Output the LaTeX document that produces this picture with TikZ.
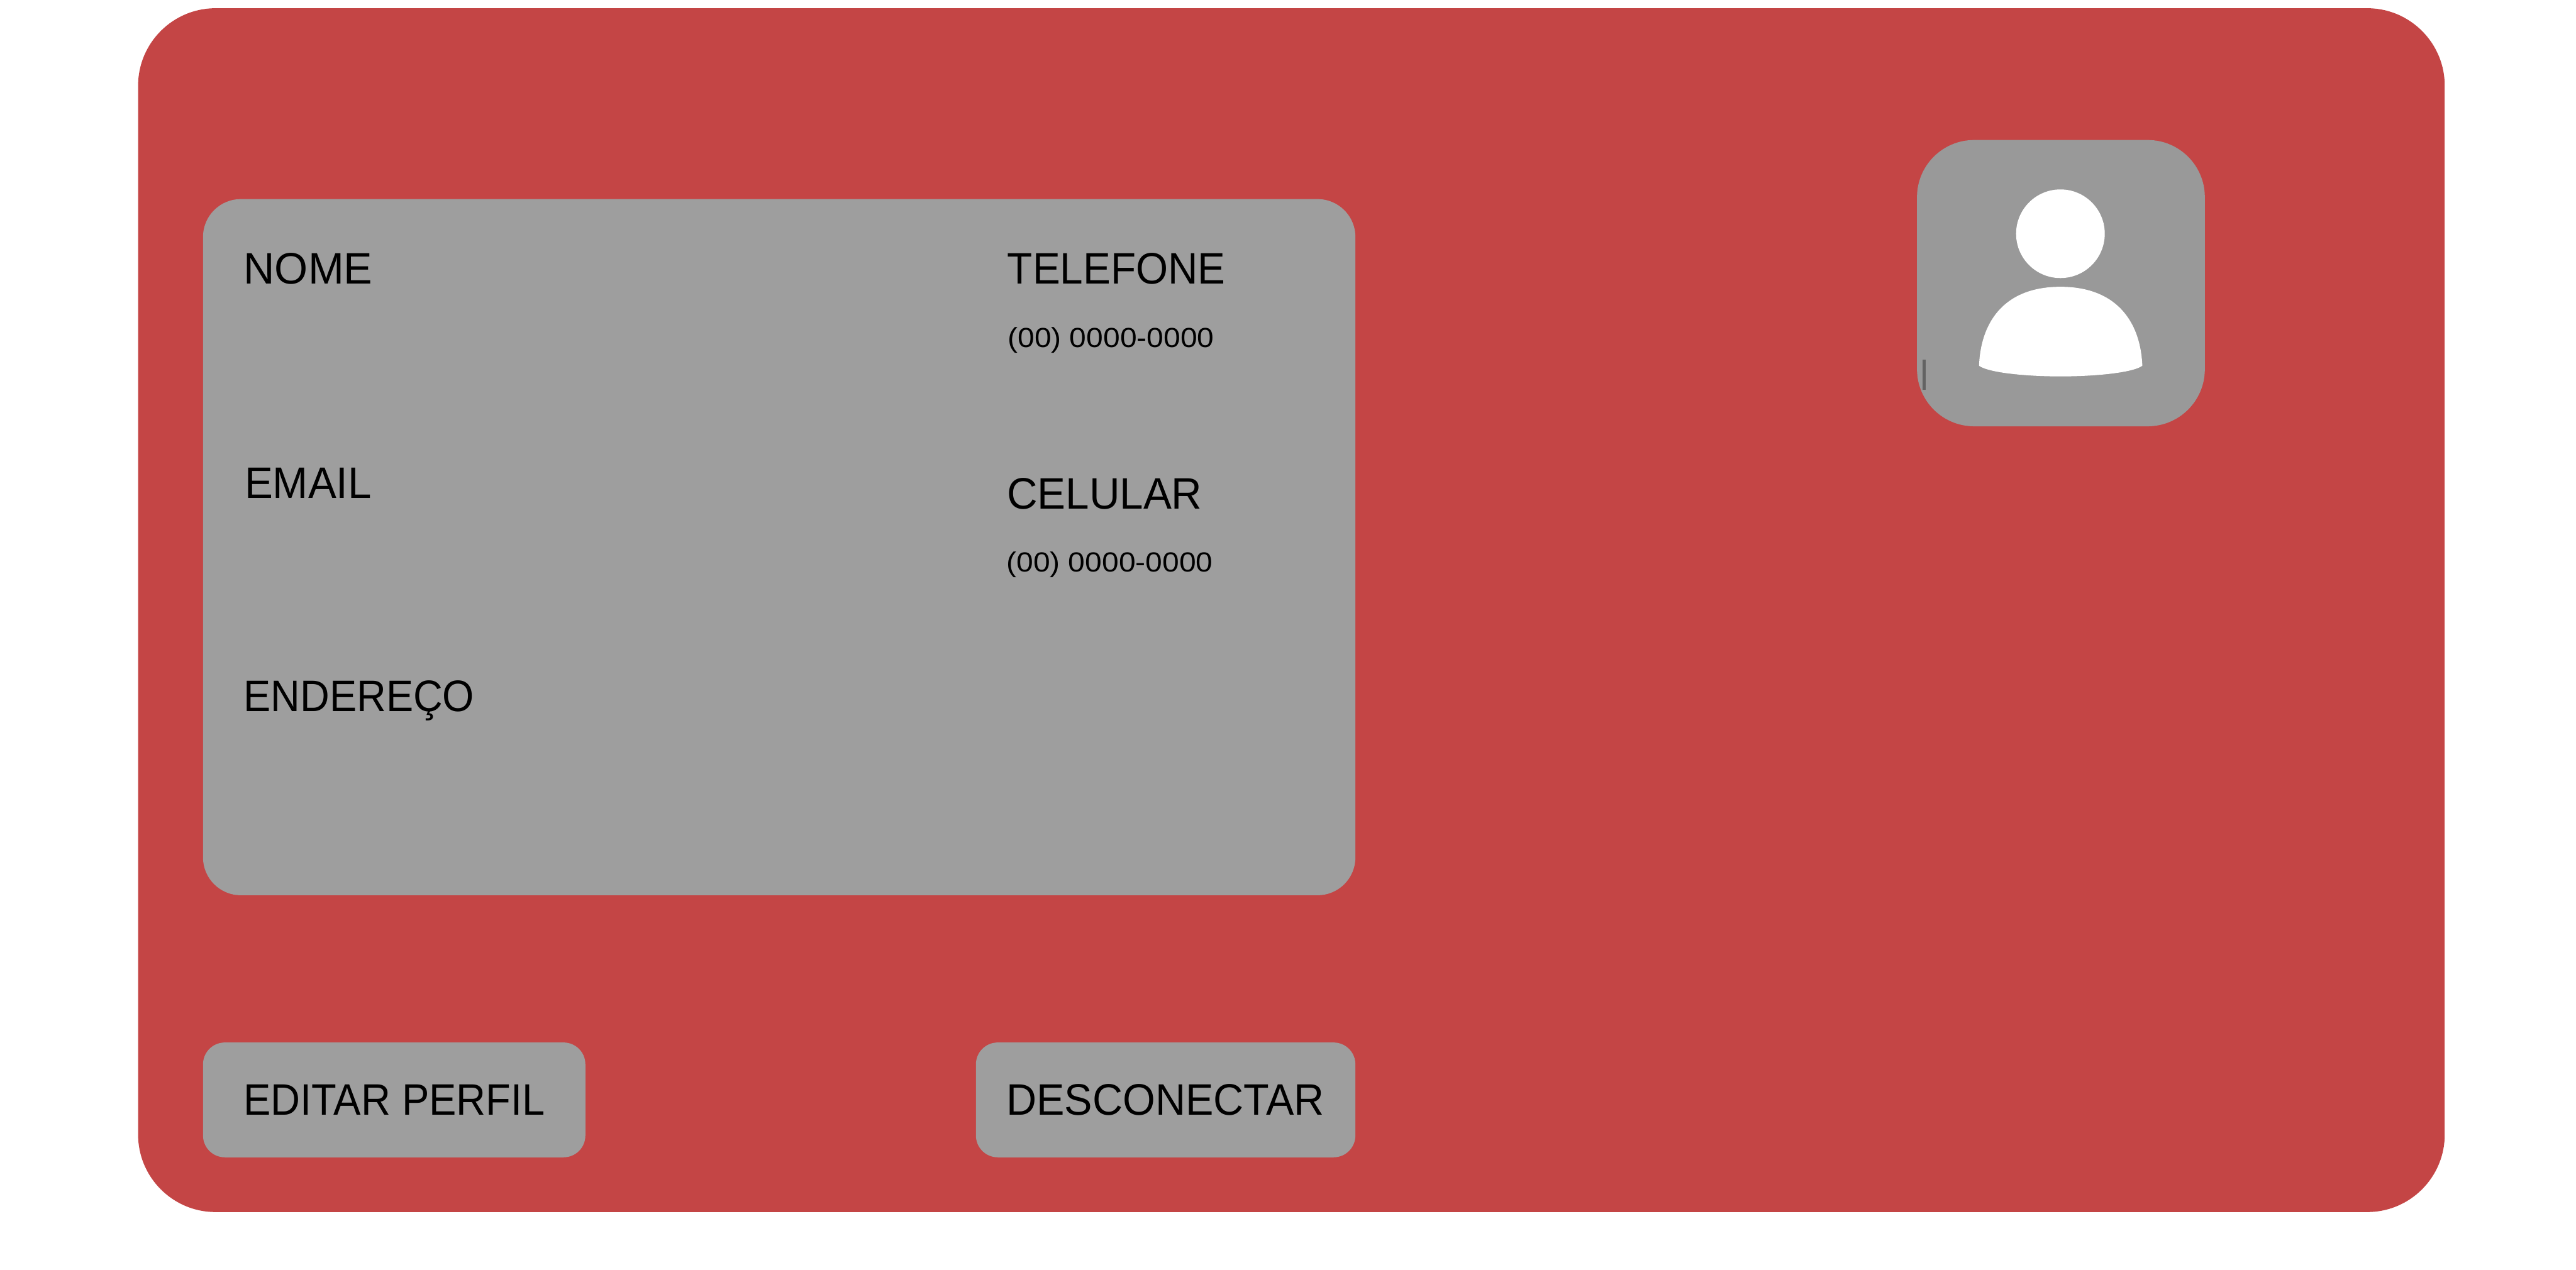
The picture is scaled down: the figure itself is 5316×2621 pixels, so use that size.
\documentclass[tikz,border=0pt]{standalone}
\usepackage{fontspec}
\usepackage{graphicx}
\setmainfont{Liberation Sans}
\definecolor{cardred}{HTML}{C44545}
\definecolor{panelgray}{HTML}{9E9E9E}
\definecolor{photogray}{HTML}{999999}
\newcommand{\fitw}[2]{\resizebox{#1pt}{\height}{#2}}
\tikzset{
  lbl/.style={anchor=base west,inner sep=0pt,outer sep=0pt,text=black,font=\fontsize{91}{100}\selectfont},
  num/.style={anchor=base west,inner sep=0pt,outer sep=0pt,text=black,font=\fontsize{57}{66}\selectfont},
}
\begin{document}
\begin{tikzpicture}[x=1pt,y=-1pt]
\useasboundingbox (0,0) rectangle (5316,2621);
\fill[white] (0,0) rectangle (5316,2621);
\fill[cardred,rounded corners=160pt] (285,17) rectangle (5045,2502);
\fill[panelgray,rounded corners=78pt] (419,411) rectangle (2797,1848);
\fill[panelgray,rounded corners=45pt] (419,2152) rectangle (1208,2389);
\fill[panelgray,rounded corners=45pt] (2014,2152) rectangle (2797,2389);
\fill[photogray,rounded corners=118pt] (3956,289) rectangle (4550,880);
\fill[white] (4252,482.5) circle (91.5);
\fill[white] (4084,755) .. controls (4088,660) and (4140,592) .. (4252,592)
  .. controls (4364,592) and (4417,660) .. (4421,755)
  .. controls (4400,770) and (4320,777) .. (4252,777)
  .. controls (4185,777) and (4105,770) .. (4084,755) -- cycle;
\fill[black!35!photogray] (3968,742) rectangle (3974,805);
\node[lbl] (nome) at (503,586) {\fitw{266}{NOME}};
\node[lbl] (telefone) at (2079,586) {\fitw{450}{TELEFONE}};
\node[num] (tel) at (2079.6,717) {\fitw{426}{(00) 0000-0000}};
\node[lbl] (email) at (505,1028) {\fitw{262}{EMAIL}};
\node[lbl] (celular) at (2078,1050) {\fitw{403}{CELULAR}};
\node[num] (cel) at (2077,1180) {\fitw{426}{(00) 0000-0000}};
\node[lbl] (endereco) at (503,1469) {\fitw{476}{ENDEREÇO}};
\node[lbl] (editar) at (503,2302) {\fitw{622}{EDITAR PERFIL}};
\node[lbl] (desconectar) at (2077,2302) {\fitw{656}{DESCONECTAR}};
\end{tikzpicture}
\end{document}
